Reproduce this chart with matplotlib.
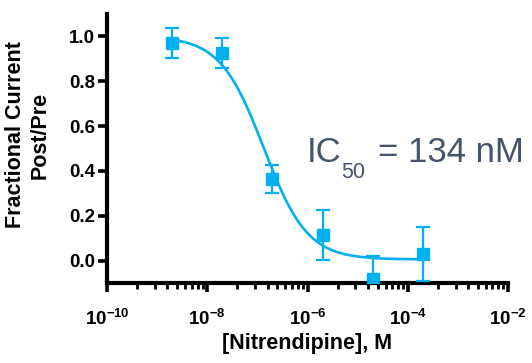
import numpy as np
import matplotlib
matplotlib.use('Agg')
import matplotlib.pyplot as plt
from matplotlib.ticker import FixedLocator, NullFormatter

plt.rcParams['font.family'] = ['Liberation Sans', 'DejaVu Sans']
plt.rcParams['mathtext.fontset'] = 'custom'
plt.rcParams['mathtext.rm'] = 'Liberation Sans'
plt.rcParams['mathtext.bf'] = 'Liberation Sans:bold'

## data
conc = [2e-9, 2e-8, 2e-7, 2e-6, 2e-5, 2e-4]          # M
frac = [0.97, 0.925, 0.365, 0.115, -0.08, 0.03]      # post/pre
err = [0.068, 0.067, 0.063, 0.112, 0.10, 0.12]

## fitted curve parameters (from the figure)
ic50 = 134e-9
top = 1.0
bottom = 0.005
hill = 1.0

xticks = [1e-10, 1e-8, 1e-6, 1e-4, 1e-2]
xticklabels = [r'$\mathbf{10^{-10}}$', r'$\mathbf{10^{-8}}$', r'$\mathbf{10^{-6}}$',
               r'$\mathbf{10^{-4}}$', r'$\mathbf{10^{-2}}$']
yticks = [0.0, 0.2, 0.4, 0.6, 0.8, 1.0]

blue = '#00B0F0'
slate = '#44546A'

fig = plt.figure(figsize=(5.32, 3.63), dpi=100)
ax = fig.add_axes([107/532, 1 - 283/363, 401/532, 269/363])

xfit = np.logspace(np.log10(conc[0]), np.log10(conc[-1]), 300)
yfit = bottom + (top - bottom) / (1 + (xfit / ic50) ** hill)
ax.plot(xfit, yfit, color=blue, lw=1.9, zorder=2)

ax.errorbar(conc, frac, yerr=err, fmt='s', color=blue, ms=8.5,
            elinewidth=1.6, capsize=5, capthick=1.6, zorder=3)

ax.set_xscale('log')
ax.set_xlim(1e-10, 1e-2)
ax.set_ylim(-0.1, 1.1)

ax.set_xticks(xticks)
ax.set_xticklabels(xticklabels)
minor = [10.0 ** e * s for e in range(-10, -2, 2) for s in [4, 9, 16, 25, 36, 49, 64, 81]]
ax.xaxis.set_minor_locator(FixedLocator(minor))
ax.xaxis.set_minor_formatter(NullFormatter())
ax.set_yticks(yticks)
ax.set_yticklabels(['%.1f' % v for v in yticks])

for s in ['top', 'right']:
    ax.spines[s].set_visible(False)
for s in ['left', 'bottom']:
    ax.spines[s].set_linewidth(3)

ax.tick_params(axis='both', which='major', direction='out', length=6.5, width=2.6,
               labelsize=13.5)
ax.tick_params(axis='x', which='major', pad=12)
ax.tick_params(axis='y', which='major', pad=2)
ax.tick_params(axis='x', which='minor', direction='out', length=4, width=2)
for lab in ax.get_yticklabels():
    lab.set_fontweight('bold')

ax.set_xlabel('[Nitrendipine], M', fontsize=15.5, fontweight='bold', labelpad=3)
ax.set_ylabel('Fractional Current\nPost/Pre', fontsize=15.5, fontweight='bold',
              va='center')
ax.yaxis.set_label_coords(-0.197, 0.55)

## IC50 annotation
fig.text(307/532, 1 - 162/363, 'IC', fontsize=25, color=slate, va='baseline')
fig.text(341/532, 1 - 178/363, '50', fontsize=15.5, color=slate, va='baseline')
fig.text(378/532, 1 - 162/363, '= 134 nM', fontsize=25, color=slate, va='baseline')

fig.savefig('out.png', dpi=100)
